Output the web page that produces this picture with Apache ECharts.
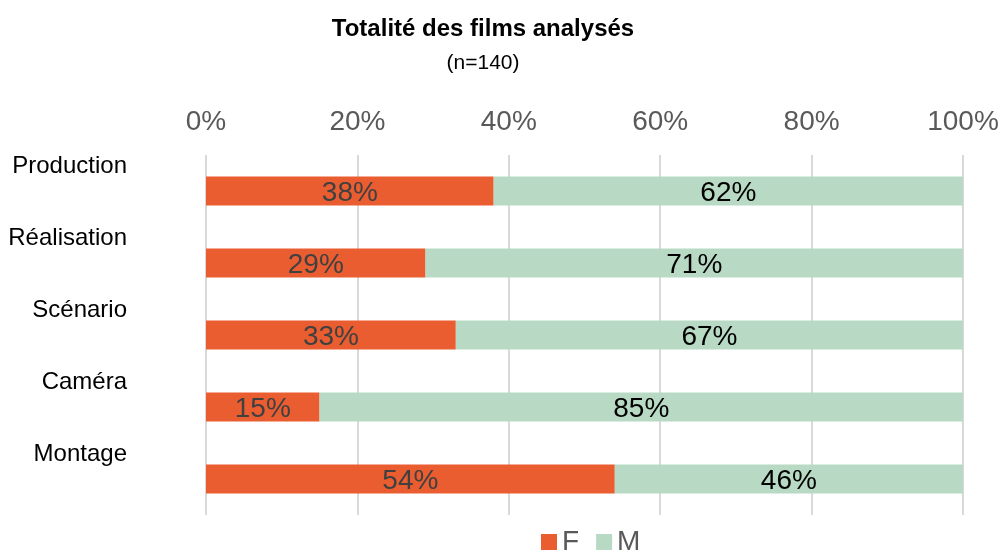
<!DOCTYPE html>
<html>
<head>
<meta charset="utf-8">
<script src="https://cdn.jsdelivr.net/npm/echarts@6/dist/echarts.min.js"></script>
<style>
  html, body { margin: 0; padding: 0; background: #fff; }
  #chart { width: 1006px; height: 553px; }
</style>
</head>
<body>
<div id="chart"></div>
<script>
const categories = ['Production', 'Réalisation', 'Scénario', 'Caméra', 'Montage']
const valuesF = [38, 29, 33, 15, 54]
const valuesM = [62, 71, 67, 85, 46]

const chart = echarts.init(document.getElementById('chart'))
const font = 'Liberation Sans, Arial, sans-serif'

const option = {
  animation: false,
  textStyle: { fontFamily: font },
  title: {
    text: 'Totalité des films analysés',
    subtext: '(n=140)',
    left: 478,
    textAlign: 'center',
    top: 12,
    itemGap: 12,
    textStyle: { fontSize: 24, fontWeight: 'bold', color: '#000', fontFamily: font },
    subtextStyle: { fontSize: 21, color: '#000', fontFamily: font }
  },
  legend: {
    bottom: -8,
    left: 536,
    itemWidth: 16,
    itemHeight: 16,
    itemGap: 17,
    icon: 'rect',
    textStyle: { fontSize: 28, color: '#595959', fontFamily: font },
    data: ['F', 'M']
  },
  grid: {
    left: 206,
    right: 43,
    top: 155,
    bottom: 38,
    containLabel: false
  },
  xAxis: {
    type: 'value',
    position: 'top',
    min: 0,
    max: 100,
    interval: 20,
    axisLine: { show: false },
    axisTick: { show: false },
    splitLine: { lineStyle: { color: '#d9d9d9', width: 2 } },
    axisLabel: {
      formatter: '{value}%',
      fontSize: 28,
      color: '#595959',
      margin: 19
    }
  },
  yAxis: {
    type: 'category',
    inverse: true,
    data: categories,
    axisLine: { show: false },
    axisTick: { show: false },
    axisLabel: {
      margin: 79,
      formatter: (v) => '{l|' + v + '}\n{s| }',
      rich: {
        l: { fontSize: 24, color: '#000', lineHeight: 26, fontFamily: font },
        s: { fontSize: 2, lineHeight: 50 }
      }
    }
  },
  series: [
    {
      name: 'F',
      type: 'bar',
      stack: 'total',
      barWidth: 29,
      data: valuesF,
      itemStyle: { color: '#EA5D30' },
      label: {
        show: true,
        position: 'inside',
        offset: [0, 2],
        formatter: '{c}%',
        fontSize: 28,
        color: '#404040'
      }
    },
    {
      name: 'M',
      type: 'bar',
      stack: 'total',
      barWidth: 29,
      data: valuesM,
      itemStyle: { color: '#B8DAC4' },
      label: {
        show: true,
        position: 'inside',
        offset: [0, 2],
        formatter: '{c}%',
        fontSize: 28,
        color: '#000'
      }
    }
  ]
}

chart.setOption(option)
</script>
</body>
</html>
